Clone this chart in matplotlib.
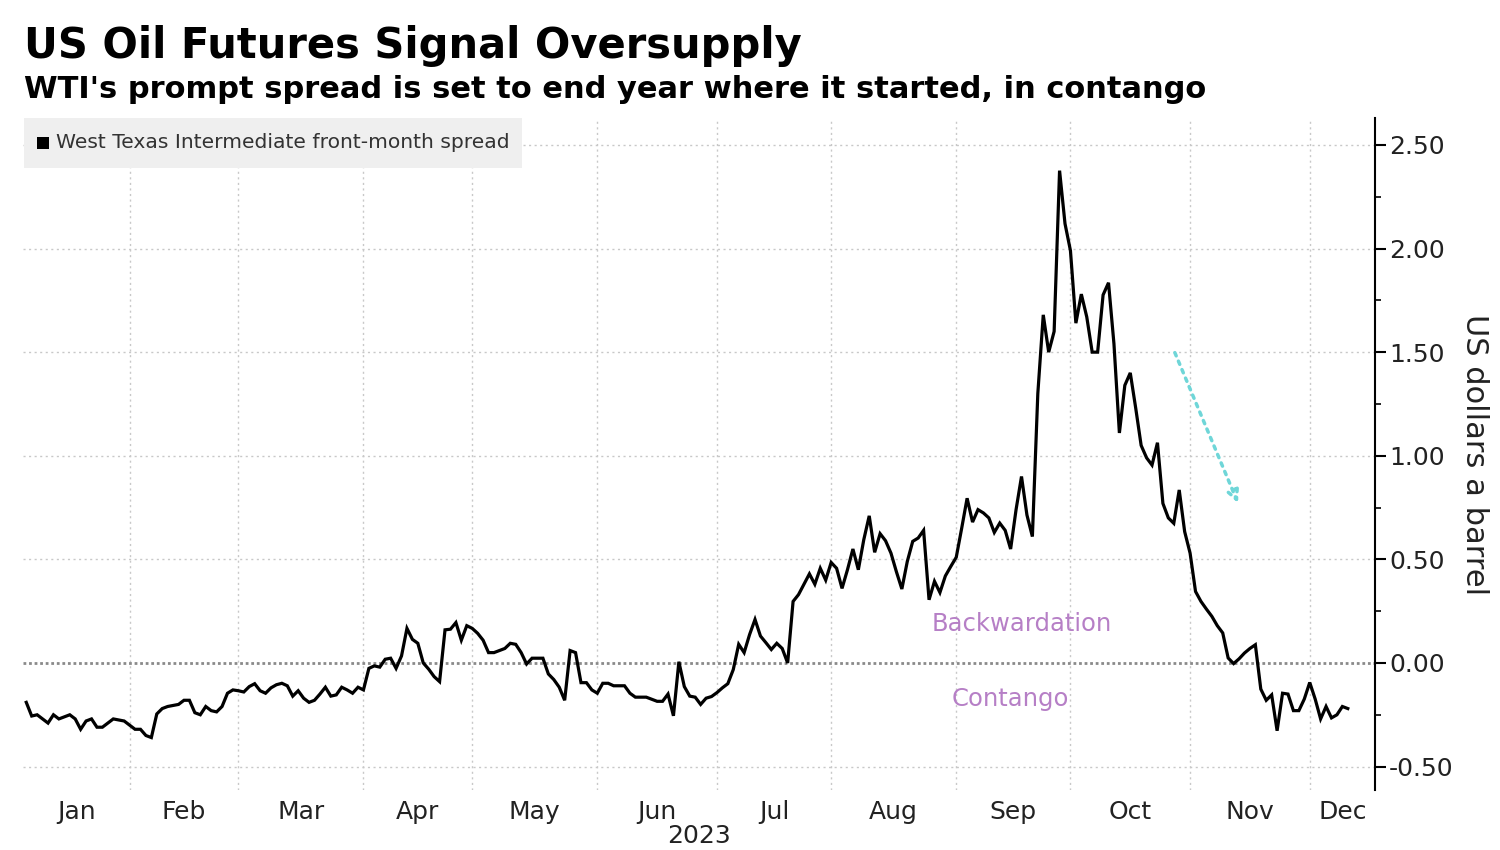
import numpy as np
import pandas as pd
import matplotlib
matplotlib.use("Agg")
import matplotlib.pyplot as plt
import matplotlib.transforms as mtransforms
from matplotlib.patches import Rectangle

# ===== data: WTI front-month spread, one value per weekday (USD/bbl)
start_date = "2023-01-05"
jan = [-0.19, -0.256, -0.25, -0.27, -0.29, -0.25, -0.27, -0.26, -0.25, -0.27,
       -0.32, -0.28, -0.27, -0.31, -0.31, -0.29, -0.27, -0.275, -0.28]
feb = [-0.30, -0.32, -0.32, -0.35, -0.36, -0.246, -0.22, -0.21, -0.205, -0.20,
       -0.18, -0.18, -0.24, -0.25, -0.21, -0.23, -0.236, -0.21, -0.146, -0.13]
mar = [-0.134, -0.14, -0.114, -0.10, -0.134, -0.146, -0.12, -0.105, -0.098, -0.11,
       -0.16, -0.134, -0.17, -0.19, -0.18, -0.15, -0.117, -0.16, -0.154, -0.117,
       -0.13, -0.146, -0.117]
apr = [-0.13, -0.026, -0.014, -0.02, 0.018, 0.023, -0.026, 0.034, 0.167, 0.114,
       0.095, 0.0, -0.03, -0.066, -0.09, 0.16, 0.163, 0.195, 0.11, 0.18]
may = [0.167, 0.143, 0.11, 0.05, 0.05, 0.06, 0.07, 0.095, 0.09, 0.05,
       -0.005, 0.023, 0.023, 0.023, -0.053, -0.08, -0.117, -0.18, 0.06, 0.05,
       -0.095, -0.095, -0.13]
jun = [-0.146, -0.098, -0.098, -0.11, -0.11, -0.11, -0.146, -0.165, -0.165, -0.165,
       -0.175, -0.185, -0.185, -0.15, -0.255, 0.006, -0.114, -0.16, -0.165, -0.20,
       -0.17, -0.162]
jul = [-0.143, -0.12, -0.10, -0.032, 0.09, 0.05, 0.137, 0.21, 0.13, 0.098,
       0.065, 0.095, 0.07, 0.0, 0.297, 0.33, 0.38, 0.43, 0.38, 0.457, 0.40]
aug = [0.485, 0.457, 0.36, 0.45, 0.55, 0.45, 0.595, 0.71, 0.534, 0.624,
       0.59, 0.53, 0.44, 0.357, 0.49, 0.587, 0.603, 0.64, 0.305, 0.394,
       0.34, 0.42, 0.466]
sep = [0.51, 0.65, 0.795, 0.68, 0.74, 0.724, 0.70, 0.63, 0.675, 0.64,
       0.55, 0.74, 0.90, 0.714, 0.61, 1.30, 1.68, 1.50, 1.60, 2.376, 2.12]
oct_ = [1.99, 1.64, 1.78, 1.67, 1.50, 1.50, 1.776, 1.835, 1.54, 1.11,
        1.34, 1.40, 1.23, 1.05, 0.99, 0.955, 1.063, 0.77, 0.70, 0.674,
        0.835, 0.634]
nov = [0.53, 0.345, 0.297, 0.26, 0.225, 0.18, 0.145, 0.024, -0.003, 0.02,
       0.048, 0.07, 0.088, -0.126, -0.18, -0.154, -0.327, -0.146, -0.15, -0.23,
       -0.23, -0.174]
dec = [-0.094, -0.174, -0.27, -0.21, -0.265, -0.25, -0.21, -0.22]

month_starts = ["2023-01-01", "2023-02-01", "2023-03-01", "2023-04-01", "2023-05-01",
                "2023-06-01", "2023-07-01", "2023-08-01", "2023-09-01", "2023-10-01",
                "2023-11-01", "2023-12-01", "2024-01-01"]
month_labels = ["Jan", "Feb", "Mar", "Apr", "May", "Jun", "Jul", "Aug", "Sep",
                "Oct", "Nov", "Dec"]
axis_end_date = "2023-12-19"
yticks = [-0.5, 0.0, 0.5, 1.0, 1.5, 2.0, 2.5]

# annotation anchors (date, value)
arrow_from = ("2023-10-27", 1.51)
arrow_to = ("2023-11-14", 0.76)
backward_at = ("2023-09-19", 0.19)
contango_at = ("2023-09-15", -0.175)

spread = jan + feb + mar + apr + may + jun + jul + aug + sep + oct_ + nov + dec
dates = pd.bdate_range(start_date, periods=len(spread)).values.astype("datetime64[D]")


def pos(d):
    # weekday count since the first weekday of the year
    return np.busday_count("2023-01-02", np.datetime64(d, "D"))


x = np.array([pos(d) for d in dates])

# ===== figure
fig = plt.figure(figsize=(15, 8.5), dpi=100)
ax = fig.add_axes([23 / 1500, 60 / 850, (1375 - 23) / 1500, (790 - 118) / 850])

x_left = x[0] - 0.6
x_right = pos(axis_end_date)
ax.set_xlim(x_left, x_right)
ax.set_ylim(-0.613, 2.63)

# grid
bounds = [pos(m) for m in month_starts]
for b in bounds[1:-1]:
    ax.axvline(b, color="#c8c8c8", lw=1, ls=(0, (1.5, 2.5)), zorder=1)
for t in yticks:
    if t == 0:
        ax.axhline(t, color="#8a8a8a", lw=2, ls=(0, (1, 1)), zorder=1)
    else:
        ax.axhline(t, color="#c8c8c8", lw=1, ls=(0, (1.5, 2.5)), zorder=1)

ax.plot(x, spread, color="black", lw=2.3, zorder=3, solid_joinstyle="miter")

# axes styling
for s in ["left", "top", "bottom"]:
    ax.spines[s].set_visible(False)
ax.spines["right"].set_linewidth(1.5)
ax.yaxis.tick_right()
ax.set_yticks(yticks)
ax.set_yticklabels([f"{t:.2f}" for t in yticks])
ax.set_yticks([-0.25, 0.25, 0.75, 1.25, 1.75, 2.25], minor=True)
ax.tick_params(axis="y", which="major", direction="out", length=8, width=1.5,
               pad=2, labelsize=18, labelcolor="#222222")
ax.tick_params(axis="y", which="minor", direction="out", length=4, width=1.2)
ax.set_xticks([])

# month labels centred in the visible part of each month
trans = mtransforms.blended_transform_factory(ax.transData, ax.transAxes)
for i, lab in enumerate(month_labels):
    lo = max(bounds[i], x_left)
    hi = min(bounds[i + 1], x_right)
    ax.text((lo + hi) / 2, -0.033, lab, transform=trans, ha="center", va="center",
            fontsize=18, color="#222222")
fig.text(0.466, 0.002, "2023", ha="center", va="bottom",
         fontsize=18, color="#222222")

# annotations
ax.text(pos(backward_at[0]), backward_at[1], "Backwardation", ha="center", va="center",
        fontsize=17.5, color="#b67fc6")
ax.text(pos(contango_at[0]), contango_at[1], "Contango", ha="center", va="center",
        fontsize=17.5, color="#b67fc6")
ax.annotate("", xy=(pos(arrow_to[0]), arrow_to[1]),
            xytext=(pos(arrow_from[0]), arrow_from[1]),
            arrowprops=dict(arrowstyle="-|>", color="#6fd6d8", lw=2.5, ls=":",
                            mutation_scale=18, fill=False))

# titles
fig.text(24 / 1500, 1 - 58 / 850, "US Oil Futures Signal Oversupply",
         fontsize=30, fontweight="bold", color="black", va="baseline")
fig.text(24 / 1500, 1 - 98 / 850,
         "WTI's prompt spread is set to end year where it started, in contango",
         fontsize=22, fontweight="bold", color="black", va="baseline")

# legend box
fig.patches.append(Rectangle((24 / 1500, 1 - 168 / 850), (522 - 24) / 1500, 50 / 850,
                             transform=fig.transFigure, facecolor="#efefef",
                             edgecolor="none", zorder=0))
fig.patches.append(Rectangle((37 / 1500, 1 - 149 / 850), 12 / 1500, 12 / 850,
                             transform=fig.transFigure, facecolor="black",
                             edgecolor="none", zorder=1))
fig.text(56 / 1500, 1 - 143 / 850, "West Texas Intermediate front-month spread",
         fontsize=14.6, color="#333333", va="center")

# y axis title on the right
fig.text(1475 / 1500, 1 - 455 / 850, "US dollars a barrel", rotation=270,
         ha="center", va="center", fontsize=22, color="#222222")

fig.savefig("out.png", dpi=100, facecolor="white")
